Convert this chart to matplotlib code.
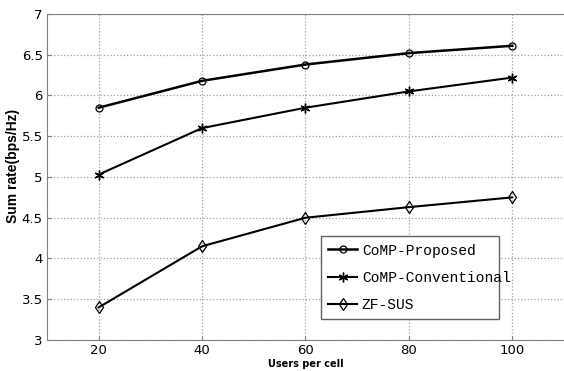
import matplotlib
matplotlib.use("Agg")
import matplotlib.pyplot as plt


users = [20, 40, 60, 80, 100]
proposed = [5.85, 6.18, 6.38, 6.52, 6.61]
conventional = [5.03, 5.60, 5.85, 6.05, 6.22]
zf_sus = [3.40, 4.15, 4.50, 4.63, 4.75]
labels = ['CoMP-Proposed', 'CoMP-Conventional', 'ZF-SUS']
yticks = [3, 3.5, 4, 4.5, 5, 5.5, 6, 6.5, 7]


def main():
	fig = plt.figure(figsize=(5.64, 3.71), dpi=100)
	ax = fig.add_axes([0.0833, 0.0836, 0.9167, 0.8787])

	ax.plot(users, proposed, color='black', lw=1.8, marker='o', ms=5, mfc='none', mew=0.9)
	ax.plot(users, conventional, color='black', lw=1.5, marker=(6, 2, 0), ms=7, mew=1.0)
	ax.plot(users, zf_sus, color='black', lw=1.5, marker='d', ms=6, mfc='none', mew=0.9)

	ax.set_xlim(10, 110)
	ax.set_ylim(3, 7)
	ax.set_xticks(users)
	ax.set_yticks(yticks)
	ax.set_yticklabels([('%g' % v) for v in yticks])
	ax.grid(True, color='#a0a0a0', linestyle=':', linewidth=0.9)
	ax.tick_params(direction='in', length=3, color='#808080', labelsize=9.5, pad=3)
	for s in ['left', 'bottom', 'top']:
		ax.spines[s].set_color('#808080')
	ax.spines['right'].set_visible(False)

	ax.set_xlabel('Users per cell', fontsize=7, fontweight='bold', labelpad=1)
	ax.set_ylabel('Sum rate(bps/Hz)', fontsize=10, fontweight='bold', family='Liberation Sans')
	ax.yaxis.set_label_coords(-0.052, 0.535)

	leg = ax.legend(labels, loc='lower left', bbox_to_anchor=(0.530, 0.064, 0.344, 0.245),
		mode='expand', fancybox=False, framealpha=1, edgecolor='#606060',
		prop={'family': 'Liberation Mono', 'size': 10.5}, handlelength=2.0, handletextpad=0.3,
		borderpad=0.5, labelspacing=0.9, borderaxespad=0)
	leg.get_frame().set_linewidth(1.0)

	fig.savefig('out.png', dpi=100)


if __name__ == "__main__":
	main()
